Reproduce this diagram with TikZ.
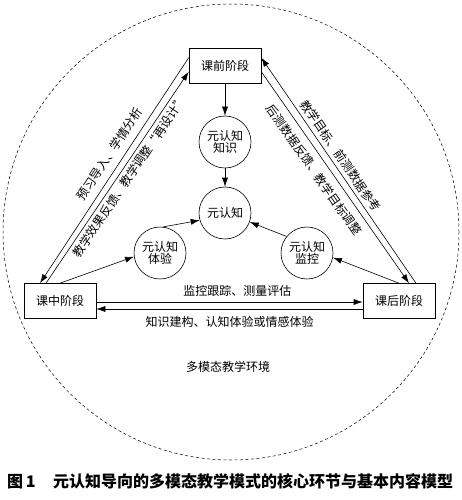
\documentclass[tikz,border=0pt]{standalone}
\usepackage{fontspec}
\setmainfont{Noto Sans CJK SC}
\usetikzlibrary{arrows.meta}

\begin{document}
\begin{tikzpicture}[x=1pt,y=-1pt,
  stage/.style={draw,line width=0.6pt,minimum width=72pt,minimum height=35pt,inner sep=0pt,font=\fontsize{12}{14}\selectfont},
  meta/.style={circle,draw,line width=0.6pt,minimum size=52pt,inner sep=0pt,align=center,font=\fontsize{12}{12.5}\selectfont},
  flow/.style={line width=0.6pt,-{Latex[length=9pt,width=6pt]}},
  lbl/.style={inner sep=0pt,font=\fontsize{12}{14}\selectfont}]

\useasboundingbox (0,0) rectangle (461,500);

% environment
\draw[dash pattern=on 3pt off 2.5pt,line width=0.5pt] (231,232) circle[radius=228pt];
\node[lbl] (env) at (228,367) {多模态教学环境};

% stages
\node[stage] (pre) at (225,66) {课前阶段};
\node[stage] (mid) at (60,301) {课中阶段};
\node[stage] (post) at (399,301) {课后阶段};

% metacognition
\node[meta] (know) at (225,142) {元认知\\知识};
\node[meta] (mc) at (225,213) {元认知};
\node[meta] (exp) at (160,253) {元认知\\体验};
\node[meta] (mon) at (307,253) {元认知\\监控};

\draw[flow] (pre) -- (know);
\draw[flow] (know) -- (mc);
\draw[flow] (exp.83) -- (mc.196);
\draw[flow] (mon.141) -- (mc.-20);
\draw[flow] (mid.north) -- (exp.188);
\draw[flow] (post.north) -- (mon.-10);

% pre <-> mid
\draw[flow] ([yshift=-9.5pt]pre.north west) -- node[lbl,pos=0.46,sloped,above=7pt] {预习导入、学情分析} ([xshift=-20pt]mid.north);
\draw[flow] ([xshift=-14pt]mid.north) -- node[lbl,pos=0.53,sloped,below=3.5pt] {教学效果反馈、教学调整“再设计”} ([yshift=-23.5pt]pre.north west);

% pre <-> post
\draw[flow] ([xshift=17pt]post.north) -- node[lbl,pos=0.54,sloped,above=4pt] {教学目标、前测数据参考} ([yshift=-9.5pt]pre.north east);
\draw[flow] ([yshift=-23.5pt]pre.north east) -- node[lbl,pos=0.43,sloped,below=7pt] {后测数据反馈、教学目标调整} ([xshift=10pt]post.north);

% mid <-> post
\draw[flow] ([yshift=-1pt]mid.east) -- node[lbl,pos=0.53,above=5pt] {监控跟踪、测量评估} ([yshift=-1pt]post.west);
\draw[flow] ([yshift=-8pt]post.west) -- node[lbl,pos=0.5,below=7pt] {知识建构、认知体验或情感体验} ([yshift=-8pt]mid.west-|mid.east);

% caption
\node[anchor=west,inner sep=0pt,font=\fontsize{16}{18}\selectfont\bfseries] (cap) at (7,481) {图\,1\hspace{1.1em}元认知导向的多模态教学模式的核心环节与基本内容模型};

\end{tikzpicture}
\end{document}
